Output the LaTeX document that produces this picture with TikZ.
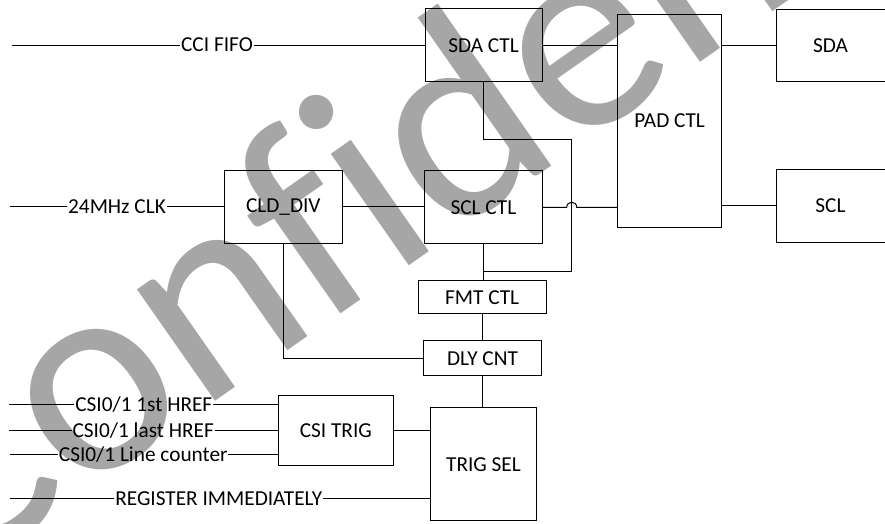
\documentclass[tikz,border=0pt]{standalone}
\usepackage{fontspec}
\setmainfont{Carlito}
\newfontfamily\wmfont[Ligatures=NoCommon]{Carlito}
\definecolor{wm}{RGB}{166,166,166}
\begin{document}
\begin{tikzpicture}[x=1pt,y=-1pt,
  box/.style={draw, line width=1pt, inner sep=0pt, font=\fontsize{21.3}{24}\selectfont},
  lbl/.style={inner sep=0.6pt, anchor=base, font=\fontsize{21.3}{24}\selectfont},
  wire/.style={line width=1pt}]
\useasboundingbox (0,0) rectangle (885,523);
% watermark
\node[text=wm, font=\wmfont\fontsize{285}{320}\selectfont, rotate=35, anchor=base west, inner sep=0pt] (wmark) at (-48,586) {Confidential};
% boxes
\node[box, minimum width=117pt, minimum height=72.5pt] (sdactl) at (483.5,45.2) {SDA CTL};
\node[box, minimum width=104pt, minimum height=213.4pt] (padctl) at (669.7,121) {PAD CTL};
\node[box, minimum width=109pt, minimum height=72.3pt] (sda) at (830.5,45.8) {SDA};
\node[box, minimum width=109pt, minimum height=72.7pt] (scl) at (830.5,205.7) {SCL};
\node[box, minimum width=117.3pt, minimum height=73.3pt] (sclctl) at (483.4,207.3) {SCL CTL};
\node[box, minimum width=118pt, minimum height=73pt] (clddiv) at (283.3,206.8) {CLD\_DIV};
\node[box, minimum width=127.7pt, minimum height=33.3pt] (fmtctl) at (482.2,297.3) {FMT CTL};
\node[box, minimum width=117.6pt, minimum height=34.7pt] (dlycnt) at (482.5,358.3) {DLY CNT};
\node[box, minimum width=106.4pt, minimum height=113.3pt] (trigsel) at (483.5,464.3) {TRIG SEL};
\node[box, minimum width=115pt, minimum height=70.3pt] (csitrig) at (335.8,430.8) {CSI TRIG};
% input labels
\coordinate (i0) at (12,45);
\coordinate (i1) at (10,206.7);
\coordinate (i2) at (9,404.3);
\coordinate (i3) at (9,430.7);
\coordinate (i4) at (10,454.3);
\coordinate (i5) at (10,498.7);
\node[lbl] (l0) at (217,51.8) {CCI FIFO};
\node[lbl] (l1) at (117,213.5) {24MHz CLK};
\node[lbl] (l2) at (143.8,411.1) {CSI0/1 1st HREF};
\node[lbl] (l3) at (143.2,437.5) {CSI0/1 last HREF};
\node[lbl] (l4) at (143.3,461.1) {CSI0/1 Line counter};
\node[lbl] (l5) at (218.8,505.5) {REGISTER IMMEDIATELY};
\draw[wire] (i0) -- (l0.west |- i0);
\draw[wire] (l0.east |- i0) -- (sdactl.west |- i0);
\draw[wire] (i1) -- (l1.west |- i1);
\draw[wire] (l1.east |- i1) -- (clddiv.west |- i1);
\draw[wire] (i2) -- (l2.west |- i2);
\draw[wire] (l2.east |- i2) -- (csitrig.west |- i2);
\draw[wire] (i3) -- (l3.west |- i3);
\draw[wire] (l3.east |- i3) -- (csitrig.west |- i3);
\draw[wire] (i4) -- (l4.west |- i4);
\draw[wire] (l4.east |- i4) -- (csitrig.west |- i4);
\draw[wire] (i5) -- (l5.west |- i5);
\draw[wire] (l5.east |- i5) -- (trigsel.west |- i5);
% internal wires
\draw[wire] (clddiv.east) -- (sclctl.west |- clddiv.east);
\draw[wire] (sdactl.east) -- (padctl.west |- sdactl.east);
\coordinate (j1) at (566.7,207.3);
\coordinate (j1c) at (566.7,200.6);
\coordinate (j2c) at (576.7,200.6);
\coordinate (j2) at (576.7,207.3);
\draw[wire] (sclctl.east) -- (j1) .. controls (j1c) and (j2c) .. (j2) -- (padctl.west |- j2);
\draw[wire] (padctl.east |- sda.west) -- (sda.west);
\draw[wire] (padctl.east |- scl.west) -- (scl.west);
\coordinate (t1) at (571.7,139.3);
\coordinate (t2) at (571.7,271.7);
\draw[wire] (sdactl.south) |- (t1) -- (t2) -- (sclctl.south |- t2);
\draw[wire] (sclctl.south) -- (sclctl.south |- fmtctl.north);
\draw[wire] (dlycnt.north |- fmtctl.south) -- (dlycnt.north);
\draw[wire] (dlycnt.south) -- (dlycnt.south |- trigsel.north);
\draw[wire] (clddiv.south) |- (dlycnt.west);
\draw[wire] (csitrig.east) -- (trigsel.west |- csitrig.east);
\end{tikzpicture}
\end{document}
